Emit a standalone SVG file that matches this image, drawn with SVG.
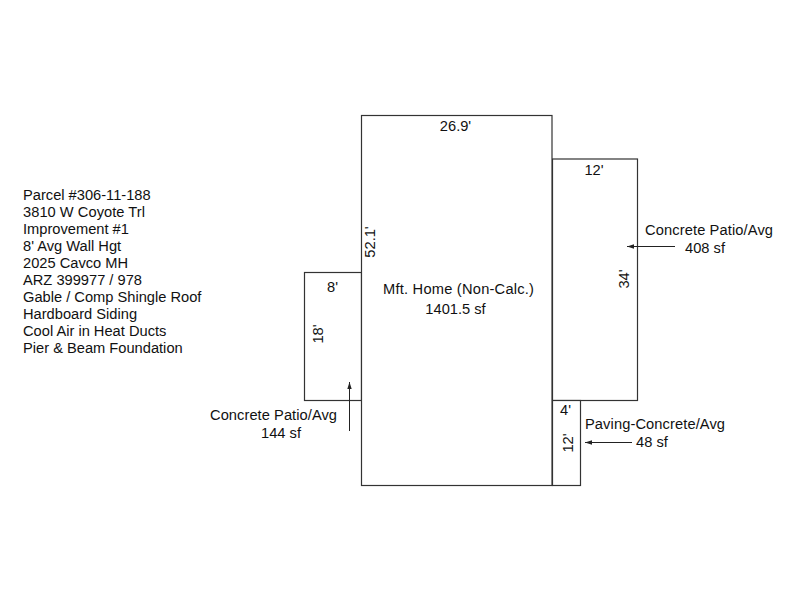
<svg xmlns="http://www.w3.org/2000/svg" width="800" height="600" viewBox="0 0 800 600">
<style>
text{font-family:"Liberation Sans",Arial,sans-serif;font-size:14.67px;fill:#111}
.m{text-anchor:middle}
.b{fill:#fff;stroke:#333;stroke-width:1.2}
.a{stroke:#222;stroke-width:1;fill:none;marker-end:url(#ah)}
</style>
<defs><marker id="ah" markerWidth="8" markerHeight="6" refX="7" refY="3" orient="auto" markerUnits="userSpaceOnUse"><path d="M0,0.8L7,3L0,5.2z" fill="#222"/></marker></defs>
<rect width="800" height="600" fill="#fff"/>
<g id="info"><text x="23" y="200">Parcel #306-11-188</text><text x="23" y="217" textLength="122">3810 W Coyote Trl</text><text x="23" y="234">Improvement #1</text><text x="23" y="251">8' Avg Wall Hgt</text><text x="23" y="268">2025 Cavco MH</text><text x="23" y="285">ARZ 399977 / 978</text><text x="23" y="302">Gable / Comp Shingle Roof</text><text x="23" y="319">Hardboard Siding</text><text x="23" y="336">Cool Air in Heat Ducts</text><text x="23" y="353">Pier &amp; Beam Foundation</text></g>
<g id="patio-left"><rect class="b" x="304.500" y="272.500" width="57" height="128"/><text class="m" x="332.500" y="292">8'</text><text class="m" transform="translate(323,334) rotate(-90)">18'</text><text x="210" y="420" textLength="127">Concrete Patio/Avg</text><text class="m" x="281" y="438">144 sf</text></g>
<g id="patio-right"><rect class="b" x="552.500" y="159" width="85" height="241.500"/><text class="m" x="594" y="175">12'</text><text class="m" transform="translate(629,279) rotate(-90)">34'</text><text x="645" y="235" textLength="128">Concrete Patio/Avg</text><text class="m" x="705" y="253">408 sf</text></g>
<g id="paving"><rect class="b" x="552.500" y="400.500" width="28" height="85"/><text class="m" x="565.500" y="415">4'</text><text class="m" transform="translate(573,443) rotate(-90)">12'</text><text x="585" y="429" textLength="140">Paving-Concrete/Avg</text><text class="m" x="652" y="447">48 sf</text></g>
<g id="home"><rect class="b" x="361.500" y="115.500" width="190.500" height="370"/><text class="m" x="455.500" y="131">26.9'</text><text class="m" transform="translate(375,242) rotate(-90)">52.1'</text><text x="383" y="294" textLength="151">Mft. Home (Non-Calc.)</text><text class="m" x="455.500" y="314">1401.5 sf</text></g>
<g id="connectors"><line class="a" x1="675" y1="246.500" x2="627" y2="246.500"/><line class="a" x1="349.500" y1="431" x2="349.500" y2="382"/><line class="a" x1="632" y1="442.500" x2="585" y2="442.500"/></g>
</svg>
